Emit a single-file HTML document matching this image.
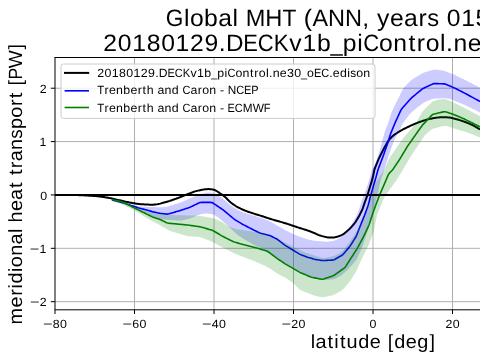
<!DOCTYPE html><html><head><meta charset="utf-8"><style>html,body{margin:0;padding:0;background:#fff;width:480px;height:360px;overflow:hidden}svg{display:block}</style></head><body><svg width="480" height="360" viewBox="0 0 480 360"><rect width="480" height="360" fill="#fff"/><defs><clipPath id="ax"><rect x="55" y="57.5" width="440" height="252.3"/></clipPath></defs><g stroke="#b0b0b0" stroke-width="1"><line x1="134.50" y1="57.5" x2="134.50" y2="309.8"/><line x1="214.00" y1="57.5" x2="214.00" y2="309.8"/><line x1="293.50" y1="57.5" x2="293.50" y2="309.8"/><line x1="373.00" y1="57.5" x2="373.00" y2="309.8"/><line x1="452.50" y1="57.5" x2="452.50" y2="309.8"/><line x1="55" y1="301.69" x2="480" y2="301.69"/><line x1="55" y1="248.32" x2="480" y2="248.32"/><line x1="55" y1="194.95" x2="480" y2="194.95"/><line x1="55" y1="141.58" x2="480" y2="141.58"/><line x1="55" y1="88.21" x2="480" y2="88.21"/></g><g clip-path="url(#ax)"><polyline points="55.00,194.95 56.08,194.95 57.05,194.96 58.02,194.96 59.01,194.96 60.01,194.96 61.01,194.97 62.01,194.97 63.01,194.97 64.02,194.97 65.02,194.98 66.02,194.98 67.02,194.98 68.02,194.98 69.02,194.99 70.03,194.99 71.03,194.99 72.03,194.99 73.03,195.00 74.03,195.01 75.03,195.02 76.04,195.05 77.04,195.08 78.04,195.12 79.04,195.16 80.04,195.20 81.04,195.24 82.04,195.28 83.04,195.32 84.04,195.37 85.04,195.41 86.04,195.47 87.04,195.52 88.04,195.58 89.04,195.64 90.04,195.70 91.04,195.76 92.04,195.82 93.04,195.89 94.04,195.95 95.04,196.03 96.04,196.11 97.04,196.21 98.03,196.31 99.03,196.42 100.02,196.53 101.02,196.66 102.01,196.80 103.00,196.94 103.99,197.09 104.98,197.23 105.97,197.39 106.96,197.55 107.94,197.73 108.93,197.93 109.91,198.13 110.88,198.35 111.86,198.56 112.84,198.78 113.82,198.99 114.80,199.21 115.77,199.43 116.75,199.66 117.73,199.89 118.70,200.11 119.68,200.34 120.65,200.57 121.63,200.79 122.61,201.01 123.58,201.23 124.56,201.44 125.54,201.65 126.52,201.86 127.50,202.07 128.48,202.27 129.46,202.47 130.45,202.66 131.43,202.84 132.42,203.02 133.41,203.19 134.39,203.36 135.38,203.53 136.37,203.68 137.36,203.82 138.35,203.94 139.35,204.04 140.35,204.13 141.35,204.21 142.34,204.29 143.34,204.36 144.34,204.43 145.34,204.49 146.34,204.54 147.34,204.58 148.34,204.61 149.35,204.64 150.35,204.67 151.35,204.68 152.35,204.68 153.35,204.64 154.34,204.57 155.34,204.48 156.34,204.38 157.33,204.24 158.31,204.07 159.29,203.86 160.26,203.62 161.22,203.35 162.18,203.07 163.14,202.78 164.10,202.49 165.06,202.21 166.03,201.94 166.99,201.68 167.96,201.42 168.92,201.15 169.88,200.86 170.83,200.54 171.77,200.20 172.71,199.86 173.65,199.52 174.60,199.20 175.55,198.88 176.50,198.55 177.44,198.22 178.38,197.88 179.32,197.53 180.25,197.15 181.17,196.76 182.09,196.37 183.02,195.98 183.94,195.59 184.86,195.20 185.79,194.83 186.72,194.47 187.66,194.12 188.60,193.78 189.55,193.44 190.48,193.09 191.42,192.73 192.35,192.36 193.29,192.00 194.23,191.66 195.18,191.36 196.14,191.09 197.11,190.85 198.08,190.63 199.06,190.41 200.04,190.20 201.02,190.00 202.00,189.80 202.99,189.61 203.97,189.44 204.96,189.31 205.96,189.20 206.95,189.14 207.95,189.10 208.95,189.10 209.95,189.14 210.94,189.23 211.92,189.37 212.90,189.56 213.86,189.79 214.79,190.10 215.69,190.51 216.55,191.00 217.38,191.53 218.22,192.09 219.04,192.65 219.87,193.22 220.70,193.78 221.52,194.35 222.35,194.92 223.16,195.50 223.97,196.09 224.75,196.71 225.50,197.37 226.22,198.06 226.92,198.77 227.61,199.49 228.31,200.21 229.01,200.92 229.74,201.61 230.49,202.26 231.27,202.88 232.07,203.48 232.89,204.07 233.70,204.65 234.53,205.21 235.37,205.75 236.23,206.27 237.10,206.77 237.97,207.26 238.85,207.74 239.74,208.20 240.63,208.64 241.54,209.06 242.45,209.47 243.37,209.87 244.29,210.26 245.22,210.64 246.16,211.00 247.10,211.35 248.04,211.69 248.98,212.02 249.93,212.35 250.88,212.67 251.83,212.98 252.78,213.29 253.74,213.59 254.69,213.90 255.65,214.19 256.60,214.49 257.56,214.79 258.52,215.08 259.48,215.37 260.43,215.67 261.39,215.97 262.35,216.27 263.30,216.57 264.25,216.89 265.20,217.20 266.15,217.52 267.10,217.83 268.05,218.15 269.01,218.46 269.96,218.76 270.92,219.06 271.88,219.35 272.84,219.63 273.80,219.91 274.76,220.20 275.72,220.48 276.68,220.76 277.65,221.03 278.61,221.31 279.57,221.58 280.54,221.85 281.50,222.12 282.47,222.39 283.43,222.67 284.39,222.95 285.35,223.24 286.30,223.54 287.26,223.85 288.21,224.17 289.16,224.49 290.11,224.80 291.06,225.12 292.01,225.44 292.96,225.75 293.91,226.07 294.86,226.39 295.81,226.70 296.76,227.02 297.71,227.34 298.66,227.65 299.61,227.96 300.57,228.26 301.52,228.56 302.48,228.86 303.44,229.15 304.40,229.45 305.35,229.75 306.31,230.05 307.26,230.36 308.21,230.68 309.15,231.02 310.09,231.36 311.03,231.72 311.96,232.08 312.89,232.46 313.81,232.85 314.73,233.25 315.64,233.65 316.56,234.06 317.47,234.47 318.39,234.86 319.32,235.23 320.26,235.57 321.21,235.87 322.18,236.14 323.14,236.39 324.11,236.64 325.09,236.88 326.06,237.10 327.04,237.28 328.03,237.40 329.02,237.46 330.02,237.49 331.02,237.50 332.02,237.49 333.02,237.47 334.01,237.42 334.99,237.29 335.96,237.10 336.92,236.83 337.88,236.54 338.83,236.22 339.77,235.90 340.71,235.56 341.62,235.17 342.49,234.72 343.32,234.18 344.11,233.59 344.88,232.95 345.65,232.31 346.41,231.66 347.17,231.01 347.93,230.35 348.68,229.70 349.42,229.02 350.14,228.32 350.82,227.60 351.49,226.85 352.15,226.10 352.81,225.34 353.46,224.58 354.09,223.81 354.71,223.02 355.30,222.22 355.86,221.39 356.40,220.55 356.94,219.70 357.46,218.85 357.98,217.99 358.49,217.13 358.98,216.26 359.44,215.37 359.89,214.48 360.34,213.58 360.78,212.68 361.22,211.78 361.66,210.88 362.07,209.97 362.47,209.05 362.83,208.12 363.16,207.18 363.49,206.23 363.81,205.28 364.12,204.33 364.44,203.38 364.77,202.43 365.10,201.49 365.44,200.55 365.78,199.61 366.13,198.67 366.48,197.73 366.83,196.79 367.17,195.85 367.50,194.90 367.81,193.95 368.12,193.00 368.42,192.04 368.71,191.08 369.01,190.13 369.31,189.17 369.60,188.21 369.90,187.26 370.19,186.30 370.48,185.34 370.77,184.38 371.05,183.42 371.33,182.46 371.60,181.49 371.88,180.53 372.15,179.57 372.42,178.60 372.69,177.64 372.94,176.67 373.17,175.69 373.38,174.71 373.57,173.73 373.77,172.75 373.96,171.77 374.17,170.79 374.41,169.82 374.70,168.87 375.03,167.93 375.39,166.99 375.76,166.06 376.14,165.14 376.52,164.21 376.90,163.28 377.28,162.35 377.66,161.43 378.04,160.50 378.43,159.58 378.84,158.67 379.26,157.76 379.70,156.86 380.15,155.96 380.59,155.06 381.04,154.17 381.49,153.27 381.94,152.38 382.39,151.48 382.84,150.59 383.29,149.70 383.76,148.81 384.24,147.93 384.72,147.05 385.22,146.18 385.71,145.31 386.21,144.44 386.71,143.57 387.21,142.71 387.72,141.85 388.25,141.00 388.82,140.19 389.44,139.42 390.11,138.68 390.80,137.96 391.51,137.25 392.22,136.55 392.95,135.87 393.71,135.22 394.50,134.62 395.33,134.05 396.17,133.51 397.02,132.98 397.87,132.46 398.72,131.93 399.58,131.41 400.43,130.88 401.29,130.37 402.15,129.87 403.03,129.39 403.92,128.93 404.82,128.49 405.72,128.05 406.63,127.62 407.53,127.19 408.43,126.75 409.33,126.32 410.24,125.89 411.14,125.46 412.06,125.04 412.97,124.64 413.89,124.25 414.82,123.87 415.75,123.50 416.68,123.13 417.61,122.76 418.54,122.39 419.48,122.04 420.42,121.70 421.37,121.37 422.32,121.06 423.27,120.75 424.23,120.45 425.18,120.15 426.14,119.85 427.10,119.57 428.07,119.32 429.04,119.09 430.02,118.87 431.00,118.65 431.98,118.45 432.96,118.24 433.94,118.05 434.93,117.89 435.92,117.75 436.91,117.63 437.91,117.53 438.90,117.44 439.90,117.35 440.90,117.27 441.90,117.21 442.90,117.19 443.90,117.20 444.90,117.23 445.90,117.28 446.90,117.34 447.89,117.40 448.89,117.49 449.88,117.61 450.86,117.78 451.84,117.98 452.81,118.22 453.78,118.46 454.76,118.71 455.72,118.96 456.69,119.22 457.65,119.49 458.61,119.79 459.56,120.09 460.52,120.41 461.47,120.72 462.42,121.04 463.36,121.36 464.31,121.70 465.25,122.04 466.18,122.40 467.11,122.78 468.04,123.16 468.96,123.54 469.89,123.92 470.81,124.32 471.72,124.73 472.62,125.16 473.51,125.63 474.38,126.11 475.25,126.61 476.11,127.12 476.97,127.62 477.81,128.12 478.64,128.60 479.51,129.11 480.00,129.40" fill="none" stroke="#000" stroke-width="2" stroke-linejoin="round" stroke-linecap="butt"/><polygon points="111.90,200.00 112.95,200.25 113.89,200.48 114.83,200.71 115.80,200.94 116.77,201.18 117.74,201.41 118.71,201.65 119.69,201.89 120.66,202.12 121.64,202.36 122.61,202.59 123.58,202.83 124.56,203.07 125.53,203.30 126.50,203.54 127.48,203.77 128.45,204.01 129.42,204.24 130.40,204.48 131.37,204.72 132.34,204.95 133.32,205.19 134.29,205.42 135.27,205.65 136.24,205.87 137.22,206.06 138.21,206.21 139.20,206.32 140.20,206.41 141.20,206.50 142.20,206.57 143.20,206.65 144.19,206.72 145.19,206.78 146.19,206.82 147.20,206.86 148.20,206.88 149.20,206.91 150.20,206.94 151.20,206.97 152.20,207.00 153.20,207.03 154.20,207.07 155.21,207.11 156.21,207.15 157.21,207.19 158.21,207.22 159.21,207.24 160.21,207.25 161.21,207.23 162.21,207.19 163.21,207.14 164.21,207.08 165.20,207.00 166.19,206.86 167.16,206.65 168.12,206.40 169.08,206.11 170.04,205.81 170.99,205.51 171.95,205.21 172.91,204.91 173.86,204.62 174.82,204.32 175.77,204.02 176.73,203.72 177.68,203.42 178.64,203.12 179.59,202.81 180.54,202.49 181.48,202.14 182.40,201.76 183.32,201.37 184.24,200.96 185.15,200.55 186.07,200.14 186.98,199.73 187.90,199.32 188.81,198.91 189.72,198.50 190.64,198.09 191.55,197.69 192.47,197.28 193.39,196.88 194.31,196.50 195.24,196.12 196.17,195.75 197.10,195.39 198.04,195.03 198.98,194.68 199.92,194.36 200.88,194.07 201.85,193.80 202.82,193.56 203.79,193.32 204.76,193.08 205.73,192.86 206.71,192.69 207.69,192.59 208.68,192.58 209.68,192.63 210.67,192.71 211.66,192.82 212.65,192.97 213.61,193.19 214.54,193.50 215.46,193.88 216.36,194.31 217.25,194.77 218.12,195.26 218.96,195.79 219.78,196.36 220.57,196.97 221.36,197.59 222.14,198.21 222.92,198.84 223.70,199.46 224.48,200.09 225.26,200.73 226.03,201.36 226.80,202.00 227.57,202.64 228.34,203.29 229.11,203.93 229.88,204.57 230.65,205.20 231.43,205.83 232.23,206.43 233.05,207.00 233.90,207.53 234.76,208.04 235.63,208.54 236.50,209.03 237.37,209.53 238.24,210.03 239.11,210.52 239.99,211.00 240.88,211.44 241.79,211.84 242.73,212.19 243.68,212.51 244.63,212.81 245.58,213.11 246.54,213.41 247.50,213.71 248.45,214.01 249.41,214.31 250.37,214.60 251.32,214.90 252.28,215.18 253.24,215.47 254.20,215.77 255.15,216.07 256.11,216.38 257.06,216.69 258.01,217.00 258.96,217.32 259.91,217.64 260.86,217.96 261.81,218.28 262.75,218.61 263.70,218.94 264.64,219.29 265.58,219.63 266.52,219.97 267.46,220.32 268.39,220.68 269.32,221.06 270.23,221.47 271.12,221.93 271.99,222.41 272.86,222.91 273.73,223.41 274.59,223.91 275.46,224.42 276.33,224.92 277.19,225.42 278.06,225.93 278.92,226.43 279.79,226.94 280.65,227.45 281.51,227.95 282.38,228.46 283.24,228.96 284.11,229.46 284.99,229.95 285.87,230.42 286.76,230.88 287.66,231.33 288.55,231.78 289.45,232.22 290.34,232.67 291.24,233.11 292.15,233.54 293.06,233.96 293.97,234.36 294.90,234.75 295.82,235.14 296.74,235.53 297.67,235.92 298.59,236.30 299.52,236.67 300.46,237.02 301.40,237.36 302.35,237.68 303.30,238.00 304.25,238.32 305.20,238.63 306.15,238.93 307.11,239.22 308.08,239.47 309.06,239.70 310.03,239.90 311.02,240.10 312.00,240.30 312.98,240.49 313.97,240.67 314.95,240.82 315.95,240.94 316.94,241.03 317.94,241.11 318.94,241.18 319.94,241.26 320.94,241.34 321.94,241.42 322.93,241.50 323.93,241.59 324.93,241.67 325.93,241.73 326.92,241.76 327.91,241.72 328.90,241.62 329.89,241.48 330.88,241.31 331.87,241.14 332.85,240.96 333.82,240.74 334.77,240.47 335.70,240.12 336.60,239.70 337.48,239.24 338.36,238.76 339.24,238.28 340.12,237.80 340.98,237.29 341.81,236.76 342.60,236.16 343.33,235.49 344.03,234.78 344.70,234.05 345.37,233.30 346.03,232.55 346.67,231.78 347.28,230.99 347.86,230.18 348.43,229.35 348.99,228.52 349.54,227.68 350.09,226.85 350.63,226.01 351.16,225.16 351.68,224.30 352.18,223.43 352.68,222.56 353.18,221.69 353.67,220.82 354.16,219.95 354.65,219.07 355.12,218.19 355.57,217.30 356.02,216.40 356.46,215.50 356.89,214.60 357.32,213.69 357.74,212.79 358.14,211.87 358.49,210.94 358.82,209.99 359.13,209.04 359.43,208.08 359.73,207.13 360.03,206.17 360.33,205.22 360.63,204.26 360.93,203.30 361.23,202.35 361.53,201.39 361.83,200.44 362.15,199.49 362.48,198.54 362.83,197.61 363.21,196.68 363.60,195.76 363.99,194.84 364.38,193.91 364.76,192.99 365.11,192.05 365.45,191.11 365.78,190.16 366.10,189.21 366.41,188.26 366.73,187.31 367.05,186.36 367.36,185.41 367.68,184.46 367.99,183.51 368.31,182.56 368.61,181.60 368.90,180.65 369.18,179.69 369.46,178.72 369.73,177.76 370.00,176.79 370.27,175.83 370.54,174.86 370.81,173.90 371.08,172.94 371.37,171.98 371.68,171.03 372.05,170.12 372.50,169.23 373.00,168.37 373.52,167.52 374.02,166.66 374.46,165.77 374.85,164.86 375.20,163.92 375.54,162.98 375.87,162.03 376.20,161.09 376.53,160.14 376.86,159.19 377.18,158.25 377.51,157.30 377.84,156.36 378.17,155.41 378.48,154.46 378.78,153.50 379.07,152.54 379.34,151.58 379.60,150.61 379.87,149.65 380.13,148.68 380.40,147.71 380.66,146.75 380.92,145.78 381.19,144.82 381.45,143.85 381.71,142.88 381.98,141.92 382.24,140.95 382.51,139.98 382.77,139.02 383.04,138.05 383.30,137.09 383.57,136.12 383.84,135.16 384.10,134.19 384.37,133.22 384.63,132.26 384.90,131.29 385.19,130.33 385.49,129.39 385.85,128.45 386.24,127.54 386.67,126.63 387.08,125.72 387.47,124.81 387.82,123.87 388.15,122.92 388.45,121.97 388.76,121.02 389.06,120.06 389.36,119.11 389.66,118.15 389.96,117.20 390.27,116.24 390.57,115.29 390.87,114.33 391.18,113.38 391.52,112.44 391.88,111.51 392.28,110.59 392.71,109.69 393.16,108.79 393.60,107.90 394.05,107.00 394.50,106.10 394.95,105.21 395.39,104.31 395.84,103.42 396.29,102.52 396.73,101.62 397.18,100.72 397.62,99.83 398.07,98.93 398.51,98.03 398.95,97.13 399.39,96.23 399.83,95.33 400.26,94.42 400.68,93.52 401.10,92.61 401.52,91.70 401.95,90.80 402.40,89.90 402.89,89.04 403.44,88.23 404.07,87.46 404.74,86.72 405.43,86.00 406.13,85.28 406.82,84.56 407.52,83.84 408.22,83.12 408.92,82.40 409.62,81.69 410.34,81.00 411.08,80.33 411.86,79.72 412.68,79.15 413.52,78.61 414.37,78.09 415.23,77.56 416.08,77.04 416.93,76.51 417.79,75.99 418.64,75.47 419.50,74.94 420.35,74.42 421.21,73.92 422.09,73.45 423.00,73.03 423.92,72.66 424.86,72.33 425.81,72.01 426.76,71.70 427.72,71.38 428.67,71.07 429.62,70.76 430.57,70.45 431.52,70.15 432.48,69.89 433.44,69.70 434.42,69.62 435.40,69.64 436.39,69.73 437.39,69.84 438.38,69.96 439.38,70.08 440.37,70.20 441.36,70.32 442.35,70.47 443.33,70.66 444.29,70.90 445.24,71.21 446.18,71.56 447.11,71.92 448.04,72.28 448.98,72.64 449.91,73.01 450.84,73.37 451.78,73.74 452.71,74.11 453.64,74.48 454.56,74.87 455.47,75.27 456.38,75.70 457.28,76.14 458.18,76.59 459.07,77.04 459.97,77.48 460.86,77.93 461.76,78.38 462.65,78.83 463.55,79.28 464.45,79.72 465.34,80.17 466.24,80.62 467.13,81.07 468.03,81.52 468.93,81.96 469.82,82.41 470.72,82.86 471.61,83.31 472.51,83.76 473.40,84.21 474.30,84.66 475.18,85.13 476.06,85.60 476.94,86.09 477.79,86.57 478.64,87.04 479.51,87.52 480.00,87.80 480.00,112.50 480.00,112.50 479.04,112.02 478.17,111.59 477.30,111.15 476.42,110.71 475.52,110.26 474.63,109.81 473.73,109.36 472.83,108.92 471.94,108.47 471.04,108.02 470.15,107.57 469.25,107.13 468.35,106.68 467.46,106.23 466.56,105.79 465.66,105.36 464.75,104.94 463.83,104.54 462.91,104.15 461.98,103.77 461.05,103.39 460.13,103.02 459.20,102.64 458.27,102.26 457.34,101.89 456.41,101.51 455.49,101.13 454.56,100.75 453.63,100.38 452.70,100.00 451.77,99.64 450.83,99.31 449.88,99.03 448.91,98.81 447.92,98.65 446.93,98.51 445.94,98.39 444.95,98.29 443.95,98.22 442.95,98.20 441.96,98.22 440.96,98.26 439.96,98.32 438.96,98.38 437.96,98.43 436.96,98.49 435.96,98.55 434.96,98.62 433.97,98.71 432.99,98.86 432.03,99.09 431.09,99.40 430.16,99.76 429.24,100.15 428.32,100.54 427.40,100.94 426.48,101.33 425.57,101.74 424.67,102.17 423.80,102.65 422.96,103.19 422.16,103.78 421.36,104.39 420.58,105.00 419.79,105.62 419.00,106.24 418.22,106.86 417.43,107.48 416.64,108.11 415.86,108.73 415.09,109.37 414.32,110.01 413.56,110.66 412.80,111.31 412.05,111.97 411.30,112.64 410.58,113.33 409.90,114.05 409.25,114.81 408.63,115.59 408.02,116.39 407.42,117.19 406.82,117.99 406.22,118.79 405.62,119.59 405.02,120.39 404.42,121.20 403.82,122.00 403.25,122.82 402.71,123.66 402.21,124.52 401.76,125.41 401.33,126.31 400.91,127.22 400.50,128.13 400.08,129.04 399.66,129.95 399.24,130.86 398.81,131.76 398.36,132.66 397.88,133.54 397.40,134.41 396.90,135.28 396.41,136.15 395.91,137.02 395.41,137.89 394.93,138.77 394.48,139.66 394.07,140.57 393.69,141.49 393.35,142.43 393.01,143.37 392.67,144.32 392.34,145.26 392.01,146.21 391.67,147.15 391.34,148.10 391.01,149.04 390.67,149.98 390.34,150.93 390.01,151.87 389.67,152.82 389.34,153.76 389.01,154.71 388.68,155.65 388.36,156.60 388.05,157.55 387.75,158.51 387.45,159.46 387.15,160.42 386.86,161.38 386.56,162.34 386.27,163.29 385.97,164.25 385.68,165.21 385.38,166.16 385.09,167.12 384.79,168.08 384.49,169.03 384.19,169.99 383.87,170.94 383.56,171.89 383.24,172.84 382.91,173.78 382.59,174.73 382.27,175.68 381.95,176.63 381.63,177.58 381.31,178.53 381.02,179.48 380.75,180.45 380.50,181.42 380.28,182.39 380.06,183.37 379.84,184.35 379.63,185.33 379.41,186.30 379.20,187.28 378.98,188.26 378.77,189.24 378.55,190.22 378.34,191.19 378.12,192.17 377.90,193.15 377.68,194.13 377.44,195.10 377.19,196.07 376.93,197.03 376.66,198.00 376.39,198.96 376.12,199.93 375.85,200.89 375.58,201.86 375.31,202.82 375.04,203.79 374.77,204.75 374.50,205.71 374.23,206.68 373.96,207.64 373.69,208.61 373.43,209.57 373.17,210.54 372.92,211.51 372.67,212.48 372.43,213.45 372.18,214.42 371.94,215.39 371.69,216.37 371.45,217.34 371.20,218.31 370.95,219.28 370.71,220.25 370.46,221.22 370.22,222.19 369.97,223.16 369.73,224.13 369.48,225.10 369.23,226.07 368.97,227.04 368.70,228.00 368.40,228.96 368.09,229.91 367.77,230.86 367.45,231.81 367.12,232.75 366.80,233.70 366.47,234.65 366.15,235.60 365.82,236.54 365.50,237.49 365.17,238.44 364.85,239.39 364.53,240.33 364.20,241.28 363.88,242.23 363.55,243.18 363.22,244.12 362.89,245.07 362.54,246.00 362.17,246.94 361.79,247.86 361.39,248.78 361.00,249.70 360.59,250.62 360.19,251.53 359.79,252.45 359.39,253.37 358.99,254.29 358.59,255.21 358.19,256.12 357.79,257.04 357.38,257.95 356.94,258.85 356.46,259.71 355.91,260.53 355.30,261.32 354.65,262.08 353.99,262.83 353.33,263.58 352.66,264.33 352.00,265.08 351.34,265.83 350.67,266.58 350.00,267.32 349.32,268.06 348.63,268.78 347.92,269.48 347.19,270.17 346.45,270.85 345.71,271.52 344.97,272.20 344.23,272.87 343.49,273.55 342.75,274.21 341.98,274.85 341.19,275.45 340.35,275.98 339.49,276.47 338.60,276.94 337.71,277.39 336.82,277.84 335.92,278.29 335.01,278.70 334.09,279.04 333.14,279.29 332.17,279.44 331.18,279.53 330.18,279.59 329.18,279.64 328.18,279.70 327.18,279.75 326.18,279.80 325.18,279.85 324.18,279.89 323.19,279.88 322.20,279.82 321.21,279.70 320.23,279.52 319.24,279.33 318.26,279.13 317.28,278.93 316.30,278.73 315.32,278.53 314.34,278.33 313.36,278.12 312.39,277.89 311.43,277.62 310.49,277.30 309.56,276.93 308.64,276.54 307.72,276.13 306.81,275.73 305.89,275.32 304.98,274.91 304.06,274.51 303.15,274.10 302.23,273.69 301.32,273.27 300.42,272.84 299.53,272.38 298.66,271.90 297.79,271.40 296.92,270.89 296.06,270.39 295.20,269.88 294.33,269.38 293.47,268.87 292.60,268.37 291.74,267.86 290.87,267.36 290.00,266.87 289.13,266.37 288.26,265.87 287.39,265.37 286.53,264.87 285.67,264.36 284.81,263.84 283.97,263.30 283.13,262.75 282.29,262.20 281.46,261.64 280.63,261.09 279.80,260.53 278.96,259.97 278.14,259.41 277.32,258.83 276.51,258.24 275.70,257.65 274.90,257.05 274.10,256.45 273.30,255.85 272.50,255.25 271.69,254.65 270.89,254.04 270.09,253.44 269.29,252.85 268.47,252.26 267.65,251.70 266.80,251.18 265.93,250.68 265.05,250.20 264.17,249.73 263.29,249.25 262.40,248.79 261.52,248.33 260.62,247.89 259.70,247.48 258.78,247.12 257.84,246.77 256.91,246.40 256.00,246.00 255.11,245.56 254.23,245.08 253.35,244.59 252.48,244.10 251.61,243.60 250.74,243.10 249.88,242.61 249.01,242.11 248.14,241.60 247.28,241.09 246.43,240.57 245.57,240.04 244.72,239.51 243.88,238.98 243.03,238.45 242.18,237.92 241.33,237.39 240.48,236.86 239.63,236.33 238.79,235.78 237.98,235.21 237.19,234.60 236.43,233.95 235.69,233.28 234.96,232.60 234.23,231.91 233.50,231.22 232.77,230.53 232.04,229.85 231.32,229.16 230.59,228.47 229.86,227.78 229.13,227.10 228.40,226.41 227.66,225.73 226.93,225.05 226.19,224.37 225.46,223.69 224.72,223.02 223.98,222.34 223.23,221.68 222.48,221.02 221.71,220.37 220.95,219.73 220.18,219.08 219.41,218.45 218.62,217.83 217.82,217.23 217.00,216.66 216.17,216.10 215.33,215.56 214.48,215.05 213.60,214.62 212.68,214.30 211.72,214.08 210.74,213.93 209.75,213.82 208.76,213.71 207.76,213.61 206.77,213.52 205.77,213.48 204.79,213.51 203.80,213.63 202.82,213.81 201.85,214.02 200.87,214.24 199.90,214.46 198.93,214.71 197.97,214.99 197.04,215.33 196.12,215.72 195.21,216.14 194.31,216.58 193.42,217.02 192.51,217.44 191.59,217.83 190.66,218.17 189.70,218.46 188.74,218.72 187.77,218.97 186.80,219.21 185.82,219.46 184.85,219.70 183.88,219.94 182.91,220.16 181.93,220.34 180.95,220.45 179.95,220.49 178.96,220.48 177.96,220.44 176.96,220.39 175.96,220.35 174.96,220.30 173.96,220.25 172.96,220.20 171.96,220.15 170.96,220.10 169.95,220.05 168.96,219.99 167.96,219.93 166.96,219.85 165.96,219.78 164.96,219.70 163.96,219.62 162.96,219.53 161.97,219.44 160.98,219.33 159.99,219.17 159.02,218.95 158.06,218.69 157.10,218.41 156.14,218.12 155.18,217.82 154.23,217.52 153.28,217.20 152.35,216.85 151.42,216.47 150.51,216.06 149.60,215.64 148.69,215.22 147.78,214.80 146.88,214.37 145.98,213.92 145.10,213.45 144.24,212.95 143.39,212.42 142.56,211.87 141.72,211.31 140.89,210.76 140.05,210.21 139.22,209.66 138.36,209.14 137.49,208.67 136.58,208.26 135.65,207.91 134.71,207.58 133.76,207.26 132.81,206.94 131.86,206.63 130.91,206.31 129.96,206.00 129.01,205.68 128.06,205.37 127.11,205.05 126.16,204.73 125.21,204.42 124.26,204.10 123.31,203.79 122.36,203.47 121.40,203.16 120.45,202.84 119.50,202.52 118.55,202.21 117.60,201.89 116.65,201.58 115.70,201.26 114.76,200.95 113.84,200.64 112.92,200.34 111.90,200.00" fill="#0000ff" fill-opacity="0.2" stroke="none"/><polyline points="111.90,200.00 112.89,200.24 113.85,200.48 114.82,200.72 115.79,200.95 116.76,201.19 117.73,201.43 118.71,201.67 119.68,201.91 120.65,202.15 121.62,202.39 122.59,202.65 123.54,202.95 124.49,203.26 125.44,203.58 126.39,203.90 127.34,204.21 128.29,204.53 129.24,204.85 130.19,205.16 131.14,205.48 132.09,205.80 133.04,206.11 133.99,206.43 134.94,206.75 135.89,207.06 136.85,207.37 137.80,207.66 138.77,207.92 139.74,208.17 140.71,208.41 141.68,208.66 142.65,208.91 143.62,209.15 144.59,209.40 145.56,209.67 146.52,209.96 147.48,210.24 148.44,210.53 149.39,210.82 150.35,211.11 151.31,211.39 152.28,211.66 153.25,211.90 154.23,212.11 155.21,212.31 156.19,212.51 157.17,212.71 158.15,212.92 159.13,213.12 160.12,213.29 161.11,213.43 162.10,213.55 163.09,213.67 164.09,213.79 165.08,213.91 166.08,214.02 167.07,214.09 168.04,214.00 169.01,213.77 169.97,213.50 170.94,213.22 171.90,212.95 172.86,212.67 173.83,212.40 174.79,212.13 175.75,211.85 176.72,211.58 177.68,211.30 178.64,211.02 179.59,210.72 180.55,210.41 181.50,210.10 182.45,209.78 183.40,209.47 184.35,209.16 185.30,208.85 186.25,208.53 187.20,208.22 188.15,207.91 189.10,207.59 190.04,207.24 190.95,206.83 191.85,206.39 192.75,205.95 193.65,205.51 194.55,205.07 195.45,204.63 196.35,204.19 197.25,203.75 198.15,203.31 199.05,202.88 199.97,202.55 200.94,202.42 201.94,202.40 202.94,202.40 203.94,202.40 204.94,202.40 205.95,202.40 206.95,202.40 207.95,202.40 208.95,202.40 209.95,202.40 210.95,202.42 211.90,202.59 212.77,203.00 213.62,203.53 214.45,204.09 215.29,204.64 216.12,205.19 216.96,205.74 217.79,206.30 218.62,206.85 219.45,207.41 220.28,207.97 221.11,208.53 221.95,209.09 222.77,209.66 223.57,210.25 224.35,210.89 225.11,211.53 225.88,212.18 226.64,212.82 227.41,213.47 228.17,214.11 228.94,214.76 229.70,215.41 230.47,216.05 231.23,216.70 232.00,217.34 232.77,217.99 233.54,218.63 234.33,219.23 235.16,219.78 236.02,220.31 236.87,220.83 237.73,221.35 238.58,221.87 239.44,222.39 240.29,222.91 241.15,223.43 242.01,223.94 242.88,224.43 243.77,224.90 244.66,225.36 245.55,225.82 246.44,226.28 247.33,226.74 248.22,227.19 249.11,227.65 250.00,228.11 250.89,228.57 251.78,229.03 252.67,229.48 253.57,229.93 254.46,230.37 255.36,230.81 256.26,231.26 257.16,231.70 258.06,232.14 258.96,232.58 259.87,232.98 260.82,233.29 261.78,233.55 262.75,233.79 263.73,234.03 264.70,234.27 265.67,234.52 266.64,234.76 267.61,235.00 268.58,235.25 269.54,235.52 270.47,235.87 271.38,236.30 272.27,236.75 273.16,237.20 274.06,237.66 274.95,238.11 275.84,238.56 276.73,239.02 277.59,239.53 278.40,240.11 279.19,240.73 279.97,241.35 280.76,241.97 281.55,242.58 282.34,243.20 283.12,243.82 283.91,244.44 284.71,245.04 285.53,245.61 286.39,246.13 287.24,246.65 288.10,247.16 288.96,247.68 289.82,248.19 290.68,248.71 291.54,249.22 292.39,249.74 293.25,250.26 294.10,250.78 294.96,251.31 295.81,251.83 296.66,252.35 297.52,252.88 298.37,253.40 299.23,253.92 300.11,254.38 301.03,254.78 301.96,255.13 302.90,255.48 303.84,255.83 304.78,256.18 305.71,256.53 306.65,256.88 307.60,257.21 308.55,257.51 309.51,257.79 310.48,258.07 311.44,258.35 312.40,258.64 313.36,258.92 314.32,259.19 315.29,259.42 316.28,259.60 317.26,259.76 318.25,259.92 319.24,260.08 320.23,260.24 321.22,260.39 322.21,260.51 323.21,260.54 324.20,260.51 325.20,260.46 326.20,260.40 327.20,260.35 328.20,260.30 329.20,260.24 330.20,260.19 331.20,260.14 332.20,260.08 333.19,259.98 334.13,259.71 335.01,259.27 335.88,258.78 336.75,258.28 337.62,257.79 338.49,257.29 339.36,256.79 340.23,256.30 341.10,255.80 341.95,255.28 342.72,254.66 343.40,253.94 344.06,253.18 344.71,252.42 345.36,251.66 346.01,250.90 346.66,250.14 347.31,249.38 347.97,248.62 348.62,247.86 349.27,247.10 349.89,246.32 350.46,245.50 351.00,244.65 351.53,243.81 352.06,242.96 352.59,242.11 353.12,241.26 353.65,240.41 354.18,239.56 354.71,238.71 355.24,237.86 355.76,237.01 356.24,236.13 356.65,235.22 357.02,234.29 357.38,233.36 357.74,232.42 358.11,231.49 358.47,230.56 358.84,229.63 359.20,228.69 359.57,227.76 359.93,226.83 360.29,225.90 360.66,224.96 361.03,224.03 361.40,223.10 361.78,222.18 362.15,221.25 362.53,220.32 362.90,219.39 363.28,218.46 363.65,217.53 364.03,216.61 364.40,215.68 364.77,214.75 365.13,213.81 365.48,212.87 365.81,211.93 366.15,210.99 366.49,210.04 366.83,209.10 367.17,208.16 367.50,207.22 367.84,206.27 368.16,205.33 368.45,204.37 368.70,203.40 368.94,202.43 369.19,201.46 369.43,200.49 369.67,199.51 369.91,198.54 370.16,197.57 370.40,196.60 370.65,195.63 370.91,194.66 371.18,193.70 371.47,192.74 371.75,191.78 372.03,190.82 372.32,189.86 372.60,188.90 372.88,187.94 373.17,186.98 373.45,186.02 373.73,185.06 374.01,184.09 374.28,183.13 374.56,182.17 374.83,181.21 375.11,180.24 375.38,179.28 375.66,178.32 375.93,177.35 376.21,176.39 376.47,175.43 376.73,174.46 376.99,173.49 377.26,172.53 377.52,171.56 377.78,170.59 378.06,169.63 378.38,168.69 378.73,167.75 379.08,166.81 379.44,165.88 379.80,164.94 380.15,164.00 380.51,163.07 380.86,162.13 381.22,161.20 381.58,160.26 381.93,159.32 382.29,158.39 382.64,157.45 382.99,156.51 383.34,155.57 383.67,154.63 384.00,153.69 384.34,152.74 384.67,151.80 385.00,150.85 385.33,149.91 385.67,148.96 386.00,148.02 386.33,147.07 386.66,146.13 386.99,145.18 387.32,144.24 387.64,143.29 387.94,142.33 388.24,141.38 388.53,140.42 388.83,139.46 389.12,138.51 389.42,137.55 389.72,136.60 390.01,135.64 390.31,134.68 390.63,133.74 390.99,132.80 391.37,131.87 391.75,130.95 392.13,130.02 392.51,129.09 392.89,128.17 393.26,127.24 393.64,126.31 394.02,125.39 394.40,124.46 394.79,123.54 395.18,122.62 395.60,121.70 396.01,120.79 396.43,119.88 396.85,118.97 397.27,118.06 397.69,117.16 398.10,116.25 398.52,115.34 398.94,114.43 399.36,113.52 399.78,112.61 400.19,111.70 400.61,110.79 401.06,109.90 401.60,109.06 402.23,108.29 402.89,107.54 403.56,106.79 404.22,106.04 404.88,105.29 405.55,104.54 406.21,103.79 406.87,103.04 407.54,102.29 408.20,101.54 408.87,100.79 409.53,100.04 410.19,99.30 410.87,98.56 411.58,97.86 412.33,97.20 413.10,96.56 413.87,95.92 414.64,95.28 415.41,94.64 416.18,94.00 416.95,93.36 417.72,92.72 418.49,92.08 419.26,91.44 420.03,90.80 420.80,90.16 421.58,89.53 422.38,88.93 423.23,88.43 424.13,87.99 425.04,87.57 425.94,87.14 426.85,86.72 427.76,86.30 428.67,85.87 429.57,85.45 430.48,85.03 431.39,84.60 432.30,84.18 433.21,83.80 434.16,83.59 435.15,83.56 436.15,83.59 437.15,83.62 438.15,83.66 439.15,83.69 440.15,83.73 441.15,83.76 442.15,83.80 443.15,83.84 444.15,83.89 445.12,84.05 446.06,84.37 446.98,84.75 447.90,85.15 448.82,85.54 449.74,85.94 450.66,86.33 451.58,86.73 452.50,87.13 453.42,87.52 454.34,87.92 455.25,88.34 456.14,88.79 457.04,89.24 457.93,89.69 458.82,90.15 459.71,90.60 460.61,91.06 461.50,91.51 462.39,91.97 463.28,92.42 464.17,92.88 465.06,93.34 465.94,93.81 466.82,94.29 467.70,94.77 468.58,95.25 469.46,95.73 470.34,96.21 471.22,96.69 472.10,97.17 472.98,97.65 473.86,98.13 474.74,98.61 475.61,99.09 476.49,99.57 477.37,100.05 478.24,100.53 479.10,101.01 480.00,101.50 480.00,101.50" fill="none" stroke="#0000ff" stroke-width="1.6" stroke-linejoin="round"/><polygon points="111.90,199.50 112.92,199.85 113.83,200.16 114.75,200.47 115.69,200.79 116.64,201.11 117.59,201.43 118.54,201.75 119.48,202.08 120.43,202.40 121.38,202.72 122.33,203.04 123.27,203.37 124.22,203.69 125.17,204.01 126.12,204.33 127.07,204.65 128.01,204.98 128.96,205.30 129.91,205.62 130.86,205.94 131.81,206.26 132.75,206.59 133.70,206.91 134.65,207.23 135.60,207.55 136.54,207.88 137.49,208.20 138.44,208.52 139.39,208.84 140.34,209.16 141.28,209.49 142.23,209.81 143.18,210.13 144.13,210.46 145.07,210.78 146.02,211.11 146.96,211.44 147.91,211.76 148.86,212.06 149.82,212.33 150.80,212.55 151.78,212.72 152.77,212.87 153.76,213.00 154.75,213.13 155.74,213.27 156.74,213.40 157.73,213.53 158.72,213.66 159.71,213.79 160.70,213.93 161.70,214.06 162.69,214.19 163.68,214.32 164.67,214.46 165.67,214.59 166.66,214.72 167.65,214.83 168.65,214.93 169.65,214.99 170.64,215.03 171.65,215.06 172.65,215.09 173.65,215.11 174.65,215.13 175.65,215.15 176.65,215.18 177.65,215.20 178.65,215.22 179.65,215.24 180.65,215.26 181.65,215.29 182.65,215.31 183.66,215.33 184.66,215.35 185.66,215.38 186.66,215.40 187.66,215.42 188.66,215.44 189.66,215.46 190.66,215.48 191.66,215.50 192.66,215.52 193.66,215.54 194.66,215.56 195.67,215.58 196.66,215.62 197.66,215.69 198.65,215.79 199.65,215.92 200.64,216.06 201.63,216.21 202.62,216.35 203.61,216.50 204.60,216.66 205.58,216.83 206.57,217.01 207.55,217.19 208.53,217.38 209.52,217.57 210.50,217.76 211.48,217.96 212.45,218.19 213.41,218.46 214.36,218.77 215.29,219.12 216.22,219.49 217.15,219.86 218.08,220.24 219.01,220.61 219.93,221.00 220.84,221.42 221.72,221.88 222.57,222.39 223.39,222.95 224.21,223.53 225.02,224.11 225.83,224.70 226.65,225.28 227.48,225.82 228.34,226.31 229.24,226.72 230.17,227.08 231.11,227.40 232.06,227.71 233.02,228.02 233.97,228.32 234.93,228.62 235.89,228.90 236.85,229.14 237.83,229.35 238.81,229.52 239.80,229.68 240.79,229.84 241.78,230.00 242.77,230.15 243.76,230.30 244.75,230.45 245.74,230.59 246.73,230.73 247.72,230.86 248.71,231.00 249.71,231.13 250.70,231.26 251.69,231.39 252.68,231.52 253.68,231.66 254.67,231.79 255.66,231.92 256.65,232.06 257.64,232.19 258.63,232.35 259.61,232.54 260.58,232.77 261.53,233.06 262.48,233.37 263.43,233.70 264.37,234.03 265.32,234.36 266.26,234.69 267.21,235.02 268.15,235.36 269.09,235.70 270.02,236.06 270.95,236.45 271.86,236.84 272.78,237.25 273.69,237.66 274.61,238.07 275.52,238.48 276.43,238.89 277.34,239.31 278.26,239.72 279.17,240.13 280.08,240.55 280.98,240.98 281.89,241.41 282.79,241.84 283.69,242.27 284.59,242.71 285.50,243.14 286.40,243.57 287.30,244.00 288.20,244.44 289.11,244.87 290.01,245.30 290.91,245.74 291.81,246.17 292.72,246.60 293.62,247.04 294.52,247.47 295.42,247.90 296.33,248.34 297.23,248.77 298.13,249.20 299.03,249.64 299.94,250.07 300.84,250.50 301.74,250.94 302.65,251.37 303.55,251.79 304.47,252.19 305.39,252.56 306.33,252.90 307.28,253.22 308.24,253.52 309.19,253.83 310.14,254.13 311.10,254.43 312.05,254.74 313.01,255.04 313.96,255.34 314.92,255.64 315.87,255.95 316.82,256.25 317.78,256.55 318.73,256.85 319.69,257.15 320.64,257.45 321.60,257.71 322.56,257.91 323.52,257.99 324.49,257.94 325.47,257.79 326.44,257.60 327.42,257.38 328.40,257.17 329.37,256.95 330.35,256.73 331.33,256.52 332.30,256.29 333.27,256.06 334.22,255.78 335.15,255.43 336.05,255.01 336.93,254.54 337.79,254.04 338.65,253.53 339.51,253.02 340.37,252.50 341.20,251.96 342.00,251.38 342.73,250.73 343.41,250.00 344.04,249.23 344.65,248.45 345.27,247.65 345.88,246.86 346.49,246.07 347.10,245.27 347.71,244.48 348.32,243.69 348.92,242.89 349.52,242.09 350.10,241.27 350.67,240.45 351.22,239.62 351.77,238.78 352.32,237.94 352.87,237.10 353.41,236.26 353.96,235.43 354.51,234.59 355.06,233.75 355.60,232.91 356.15,232.07 356.69,231.23 357.23,230.39 357.76,229.54 358.28,228.68 358.79,227.82 359.31,226.96 359.82,226.10 360.33,225.24 360.84,224.38 361.36,223.52 361.87,222.66 362.38,221.80 362.88,220.93 363.35,220.06 363.80,219.16 364.20,218.25 364.57,217.32 364.94,216.39 365.30,215.46 365.65,214.52 366.01,213.59 366.36,212.65 366.70,211.71 367.02,210.76 367.32,209.81 367.60,208.85 367.88,207.88 368.15,206.92 368.42,205.96 368.69,204.99 368.96,204.03 369.23,203.07 369.50,202.10 369.77,201.14 370.04,200.17 370.32,199.21 370.59,198.25 370.86,197.28 371.14,196.32 371.42,195.36 371.72,194.41 372.02,193.45 372.33,192.50 372.65,191.55 372.97,190.60 373.28,189.65 373.60,188.70 373.92,187.75 374.23,186.80 374.55,185.85 374.88,184.91 375.23,183.98 375.63,183.07 376.09,182.19 376.59,181.33 377.12,180.48 377.66,179.64 378.20,178.79 378.75,177.95 379.29,177.11 379.84,176.28 380.40,175.45 380.97,174.62 381.54,173.80 382.11,172.98 382.68,172.16 383.24,171.33 383.78,170.48 384.27,169.62 384.71,168.73 385.12,167.82 385.52,166.90 385.92,165.98 386.31,165.06 386.71,164.14 387.10,163.22 387.49,162.30 387.89,161.38 388.29,160.46 388.70,159.55 389.15,158.66 389.64,157.79 390.17,156.95 390.73,156.12 391.30,155.30 391.87,154.48 392.44,153.66 393.02,152.84 393.59,152.02 394.16,151.19 394.73,150.37 395.30,149.54 395.86,148.71 396.42,147.88 396.97,147.05 397.53,146.22 398.09,145.39 398.65,144.56 399.20,143.73 399.76,142.89 400.32,142.06 400.89,141.24 401.47,140.43 402.07,139.63 402.70,138.85 403.34,138.08 403.98,137.32 404.63,136.55 405.28,135.79 405.93,135.03 406.58,134.26 407.22,133.50 407.87,132.74 408.52,131.97 409.16,131.21 409.80,130.44 410.44,129.67 411.08,128.90 411.72,128.13 412.37,127.36 413.01,126.59 413.65,125.82 414.29,125.05 414.91,124.27 415.52,123.48 416.10,122.67 416.63,121.83 417.14,120.97 417.64,120.10 418.13,119.23 418.63,118.36 419.12,117.48 419.61,116.61 420.10,115.74 420.60,114.87 421.09,114.00 421.60,113.14 422.13,112.29 422.70,111.48 423.33,110.71 424.00,109.97 424.68,109.25 425.38,108.53 426.07,107.81 426.77,107.09 427.47,106.37 428.16,105.65 428.87,104.94 429.58,104.23 430.31,103.55 431.06,102.89 431.82,102.24 432.60,101.64 433.42,101.11 434.30,100.69 435.22,100.39 436.19,100.16 437.17,99.97 438.15,99.79 439.13,99.60 440.12,99.42 441.10,99.25 442.08,99.10 443.06,99.02 444.04,99.05 445.00,99.20 445.97,99.43 446.93,99.70 447.88,99.98 448.84,100.29 449.77,100.63 450.69,101.01 451.60,101.44 452.49,101.88 453.38,102.34 454.27,102.79 455.17,103.25 456.06,103.71 456.95,104.17 457.84,104.62 458.73,105.08 459.62,105.54 460.51,105.99 461.40,106.45 462.29,106.91 463.18,107.37 464.07,107.83 464.96,108.29 465.85,108.75 466.73,109.22 467.62,109.69 468.50,110.16 469.39,110.62 470.27,111.09 471.15,111.56 472.04,112.03 472.92,112.50 473.81,112.97 474.69,113.44 475.58,113.91 476.46,114.37 477.34,114.84 478.19,115.29 479.05,115.75 480.00,116.25 480.00,116.25 480.00,137.50 479.48,137.29 478.55,136.92 477.65,136.56 476.74,136.20 475.81,135.83 474.88,135.45 473.95,135.08 473.02,134.71 472.09,134.34 471.16,133.97 470.23,133.60 469.30,133.23 468.37,132.87 467.43,132.53 466.48,132.21 465.52,131.91 464.56,131.62 463.60,131.33 462.65,131.04 461.69,130.76 460.73,130.47 459.77,130.18 458.81,129.89 457.85,129.60 456.89,129.32 455.93,129.03 454.97,128.73 454.02,128.44 453.06,128.14 452.10,127.84 451.15,127.54 450.19,127.24 449.24,126.94 448.28,126.64 447.33,126.35 446.37,126.11 445.41,125.95 444.45,125.93 443.48,126.05 442.51,126.24 441.54,126.47 440.57,126.72 439.60,126.96 438.62,127.21 437.65,127.45 436.68,127.70 435.71,127.94 434.75,128.20 433.80,128.49 432.89,128.86 432.03,129.32 431.22,129.88 430.43,130.49 429.66,131.12 428.89,131.76 428.12,132.40 427.35,133.05 426.59,133.70 425.85,134.37 425.16,135.08 424.52,135.84 423.93,136.64 423.36,137.46 422.81,138.29 422.25,139.12 421.69,139.96 421.14,140.79 420.58,141.62 420.03,142.46 419.47,143.29 418.92,144.13 418.36,144.96 417.81,145.79 417.25,146.63 416.69,147.46 416.14,148.29 415.58,149.13 415.03,149.96 414.47,150.79 413.92,151.63 413.36,152.46 412.80,153.29 412.25,154.13 411.69,154.96 411.14,155.80 410.59,156.63 410.06,157.48 409.54,158.34 409.03,159.20 408.53,160.07 408.03,160.93 407.53,161.80 407.03,162.67 406.53,163.54 406.04,164.41 405.54,165.28 405.04,166.15 404.54,167.02 404.04,167.88 403.54,168.75 403.03,169.61 402.52,170.47 402.00,171.33 401.48,172.19 400.96,173.04 400.43,173.90 399.91,174.75 399.39,175.61 398.87,176.46 398.34,177.31 397.82,178.17 397.28,179.01 396.74,179.85 396.18,180.68 395.60,181.50 395.01,182.31 394.42,183.12 393.83,183.93 393.24,184.74 392.65,185.55 392.06,186.36 391.47,187.16 390.88,187.97 390.28,188.78 389.69,189.59 389.10,190.40 388.51,191.21 387.92,192.02 387.33,192.83 386.74,193.63 386.15,194.45 385.58,195.26 385.03,196.10 384.53,196.95 384.08,197.84 383.68,198.76 383.29,199.68 382.91,200.61 382.53,201.53 382.16,202.46 381.78,203.39 381.40,204.32 381.03,205.25 380.65,206.17 380.27,207.10 379.89,208.03 379.51,208.96 379.13,209.88 378.75,210.81 378.36,211.73 377.98,212.66 377.61,213.59 377.27,214.53 376.98,215.48 376.74,216.45 376.52,217.42 376.32,218.40 376.12,219.39 375.93,220.37 375.73,221.35 375.53,222.33 375.34,223.32 375.14,224.30 374.94,225.28 374.75,226.26 374.55,227.24 374.35,228.23 374.15,229.21 373.93,230.18 373.68,231.15 373.40,232.11 373.08,233.06 372.75,234.00 372.41,234.94 372.07,235.88 371.72,236.82 371.38,237.77 371.04,238.71 370.70,239.65 370.35,240.59 370.01,241.53 369.67,242.47 369.32,243.41 368.95,244.34 368.56,245.26 368.14,246.17 367.71,247.07 367.26,247.97 366.82,248.87 366.37,249.76 365.92,250.66 365.47,251.55 365.02,252.45 364.58,253.35 364.13,254.24 363.68,255.14 363.23,256.03 362.79,256.93 362.34,257.83 361.89,258.72 361.46,259.63 361.03,260.53 360.61,261.44 360.20,262.36 359.80,263.27 359.39,264.19 358.98,265.10 358.58,266.02 358.17,266.93 357.76,267.85 357.35,268.76 356.94,269.67 356.50,270.57 356.04,271.46 355.55,272.33 355.03,273.19 354.51,274.04 353.98,274.89 353.45,275.74 352.91,276.59 352.38,277.44 351.85,278.29 351.32,279.13 350.78,279.97 350.21,280.80 349.62,281.60 349.00,282.39 348.36,283.16 347.71,283.92 347.06,284.68 346.41,285.44 345.76,286.20 345.10,286.96 344.45,287.72 343.79,288.47 343.10,289.18 342.37,289.85 341.58,290.44 340.74,290.98 339.88,291.49 339.02,291.99 338.15,292.49 337.28,292.98 336.41,293.48 335.53,293.96 334.65,294.42 333.74,294.81 332.80,295.14 331.84,295.40 330.87,295.64 329.89,295.86 328.92,296.07 327.94,296.29 326.96,296.51 325.98,296.72 325.00,296.93 324.03,297.11 323.05,297.21 322.08,297.21 321.10,297.09 320.13,296.89 319.16,296.66 318.19,296.42 317.21,296.18 316.24,295.94 315.27,295.69 314.30,295.44 313.34,295.17 312.38,294.88 311.44,294.55 310.50,294.19 309.57,293.83 308.64,293.46 307.71,293.08 306.78,292.71 305.85,292.34 304.92,291.97 303.99,291.60 303.06,291.22 302.14,290.84 301.24,290.43 300.37,289.95 299.57,289.39 298.81,288.76 298.09,288.07 297.37,287.37 296.67,286.66 295.96,285.96 295.25,285.25 294.54,284.54 293.82,283.84 293.09,283.16 292.33,282.52 291.54,281.91 290.73,281.33 289.90,280.77 289.07,280.21 288.23,279.66 287.40,279.10 286.56,278.55 285.72,278.02 284.86,277.50 283.98,277.02 283.10,276.56 282.20,276.10 281.31,275.65 280.41,275.21 279.52,274.75 278.63,274.29 277.76,273.80 276.90,273.29 276.06,272.75 275.23,272.19 274.40,271.63 273.57,271.06 272.75,270.50 271.92,269.93 271.10,269.36 270.27,268.80 269.44,268.24 268.60,267.69 267.75,267.17 266.87,266.70 265.97,266.26 265.06,265.85 264.14,265.45 263.23,265.05 262.31,264.66 261.39,264.26 260.47,263.86 259.55,263.46 258.63,263.07 257.71,262.67 256.79,262.27 255.87,261.88 254.94,261.49 254.02,261.11 253.09,260.74 252.16,260.36 251.23,259.99 250.30,259.62 249.37,259.25 248.44,258.88 247.51,258.50 246.58,258.13 245.65,257.77 244.71,257.40 243.78,257.04 242.84,256.69 241.90,256.34 240.96,255.99 240.03,255.63 239.09,255.28 238.15,254.93 237.21,254.58 236.28,254.21 235.36,253.83 234.44,253.43 233.53,253.00 232.63,252.56 231.74,252.12 230.84,251.67 229.95,251.22 229.05,250.78 228.15,250.33 227.26,249.88 226.36,249.43 225.47,248.97 224.59,248.51 223.70,248.03 222.82,247.56 221.94,247.07 221.07,246.59 220.19,246.11 219.31,245.63 218.43,245.15 217.55,244.67 216.67,244.19 215.79,243.71 214.92,243.23 214.03,242.75 213.14,242.29 212.24,241.86 211.33,241.45 210.41,241.07 209.48,240.69 208.55,240.32 207.62,239.95 206.69,239.58 205.76,239.20 204.83,238.83 203.90,238.46 202.97,238.09 202.03,237.73 201.09,237.40 200.14,237.13 199.17,236.95 198.18,236.83 197.19,236.76 196.19,236.70 195.19,236.65 194.19,236.60 193.19,236.55 192.19,236.49 191.19,236.44 190.19,236.38 189.19,236.31 188.20,236.21 187.22,236.05 186.25,235.83 185.29,235.56 184.33,235.28 183.37,234.98 182.41,234.69 181.45,234.40 180.50,234.10 179.54,233.81 178.58,233.51 177.62,233.22 176.67,232.93 175.71,232.63 174.75,232.34 173.79,232.05 172.84,231.75 171.88,231.46 170.92,231.16 169.98,230.83 169.05,230.47 168.16,230.04 167.28,229.57 166.42,229.06 165.57,228.53 164.71,228.01 163.86,227.48 163.01,226.96 162.16,226.43 161.30,225.91 160.44,225.41 159.56,224.92 158.67,224.46 157.78,224.01 156.88,223.56 155.99,223.12 155.09,222.68 154.19,222.23 153.30,221.77 152.41,221.30 151.54,220.82 150.67,220.32 149.80,219.82 148.94,219.31 148.08,218.80 147.21,218.30 146.35,217.79 145.50,217.27 144.65,216.74 143.80,216.19 142.97,215.64 142.13,215.09 141.30,214.53 140.47,213.98 139.63,213.42 138.79,212.88 137.94,212.35 137.08,211.85 136.19,211.38 135.30,210.93 134.40,210.49 133.50,210.05 132.60,209.61 131.70,209.17 130.80,208.73 129.90,208.29 129.00,207.85 128.10,207.41 127.20,206.97 126.30,206.53 125.40,206.09 124.50,205.65 123.60,205.21 122.70,204.77 121.80,204.33 120.90,203.90 120.00,203.46 119.10,203.02 118.20,202.58 117.30,202.14 116.40,201.70 115.50,201.26 114.61,200.82 113.74,200.40 112.87,199.97 111.90,199.50" fill="#008000" fill-opacity="0.2" stroke="none"/><polyline points="111.90,199.50 112.90,199.74 113.85,199.96 114.83,200.19 115.80,200.42 116.78,200.65 117.75,200.88 118.73,201.11 119.70,201.34 120.67,201.57 121.65,201.81 122.59,202.11 123.51,202.51 124.41,202.95 125.30,203.40 126.20,203.85 127.10,204.30 127.99,204.75 128.89,205.19 129.78,205.64 130.68,206.09 131.58,206.54 132.47,206.99 133.37,207.43 134.26,207.88 135.16,208.33 136.06,208.78 136.95,209.23 137.85,209.67 138.74,210.12 139.64,210.57 140.54,211.02 141.43,211.47 142.33,211.91 143.22,212.36 144.12,212.81 145.02,213.26 145.91,213.71 146.81,214.15 147.70,214.60 148.60,215.05 149.50,215.50 150.39,215.95 151.29,216.39 152.19,216.82 153.12,217.19 154.07,217.52 155.02,217.84 155.97,218.16 156.92,218.47 157.87,218.79 158.82,219.11 159.76,219.45 160.68,219.84 161.58,220.26 162.49,220.69 163.39,221.13 164.29,221.56 165.20,221.99 166.10,222.43 167.01,222.82 167.96,223.10 168.95,223.23 169.94,223.33 170.94,223.43 171.94,223.52 172.94,223.62 173.93,223.71 174.93,223.81 175.93,223.90 176.93,224.00 177.92,224.09 178.92,224.18 179.92,224.28 180.91,224.37 181.91,224.47 182.91,224.56 183.91,224.66 184.90,224.75 185.90,224.85 186.90,224.95 187.89,225.06 188.89,225.19 189.88,225.33 190.87,225.47 191.86,225.61 192.85,225.75 193.85,225.89 194.84,226.03 195.83,226.17 196.82,226.31 197.81,226.44 198.81,226.59 199.79,226.75 200.77,226.98 201.73,227.24 202.70,227.52 203.66,227.79 204.62,228.06 205.59,228.34 206.55,228.61 207.51,228.88 208.48,229.16 209.44,229.43 210.40,229.71 211.37,229.98 212.31,230.31 213.20,230.74 214.07,231.24 214.93,231.75 215.79,232.26 216.65,232.77 217.52,233.28 218.38,233.80 219.24,234.31 220.10,234.82 220.96,235.33 221.82,235.84 222.70,236.33 223.58,236.79 224.48,237.24 225.37,237.69 226.27,238.14 227.16,238.59 228.06,239.04 228.95,239.49 229.85,239.94 230.74,240.39 231.64,240.84 232.54,241.29 233.44,241.71 234.38,242.05 235.34,242.34 236.30,242.60 237.27,242.87 238.23,243.14 239.20,243.40 240.17,243.67 241.13,243.93 242.10,244.20 243.06,244.47 244.03,244.73 245.00,244.99 245.97,245.24 246.94,245.48 247.91,245.73 248.88,245.97 249.85,246.21 250.83,246.46 251.80,246.70 252.77,246.94 253.74,247.19 254.71,247.44 255.68,247.71 256.64,247.99 257.60,248.28 258.55,248.57 259.51,248.85 260.47,249.14 261.43,249.43 262.39,249.72 263.35,250.01 264.31,250.29 265.27,250.58 266.23,250.87 267.16,251.22 268.03,251.69 268.84,252.26 269.65,252.86 270.45,253.46 271.25,254.06 272.05,254.66 272.85,255.26 273.65,255.86 274.45,256.47 275.26,257.07 276.06,257.67 276.86,258.27 277.67,258.85 278.50,259.42 279.33,259.97 280.17,260.53 281.00,261.08 281.83,261.64 282.67,262.20 283.50,262.75 284.34,263.30 285.18,263.84 286.04,264.35 286.91,264.86 287.77,265.36 288.64,265.86 289.51,266.36 290.37,266.87 291.24,267.37 292.11,267.87 292.97,268.38 293.84,268.88 294.70,269.39 295.56,269.90 296.43,270.40 297.29,270.91 298.16,271.42 299.02,271.92 299.90,272.40 300.81,272.82 301.73,273.21 302.65,273.60 303.58,273.98 304.51,274.36 305.43,274.75 306.36,275.13 307.28,275.51 308.21,275.90 309.13,276.29 310.05,276.68 310.98,277.04 311.94,277.32 312.92,277.53 313.90,277.72 314.88,277.91 315.87,278.10 316.85,278.30 317.83,278.49 318.82,278.68 319.80,278.87 320.78,279.06 321.76,279.22 322.73,279.21 323.69,278.99 324.64,278.68 325.59,278.36 326.54,278.04 327.49,277.72 328.44,277.40 329.38,277.07 330.33,276.75 331.28,276.43 332.23,276.11 333.17,275.76 334.05,275.32 334.89,274.78 335.70,274.20 336.51,273.61 337.33,273.02 338.14,272.44 338.95,271.85 339.77,271.27 340.58,270.68 341.39,270.10 342.20,269.51 343.02,268.93 343.83,268.34 344.60,267.72 345.27,267.00 345.84,266.18 346.38,265.34 346.93,264.50 347.47,263.65 348.01,262.81 348.55,261.97 349.09,261.12 349.63,260.28 350.17,259.44 350.71,258.59 351.25,257.75 351.79,256.91 352.33,256.06 352.87,255.22 353.41,254.38 353.95,253.53 354.49,252.69 355.03,251.85 355.58,251.00 356.12,250.16 356.66,249.32 357.19,248.47 357.70,247.60 358.18,246.73 358.65,245.84 359.12,244.96 359.59,244.07 360.06,243.19 360.53,242.30 361.00,241.42 361.47,240.53 361.94,239.65 362.41,238.77 362.88,237.88 363.35,237.00 363.80,236.10 364.24,235.20 364.66,234.29 365.09,233.39 365.51,232.48 365.94,231.57 366.36,230.66 366.79,229.76 367.21,228.85 367.64,227.94 368.06,227.04 368.48,226.13 368.90,225.22 369.27,224.29 369.60,223.34 369.90,222.39 370.20,221.43 370.51,220.48 370.81,219.52 371.11,218.57 371.42,217.61 371.72,216.66 372.02,215.70 372.33,214.75 372.65,213.80 372.98,212.86 373.32,211.91 373.66,210.97 374.00,210.03 374.33,209.08 374.67,208.14 375.01,207.20 375.35,206.26 375.69,205.31 376.04,204.38 376.39,203.44 376.75,202.50 377.11,201.57 377.46,200.63 377.82,199.69 378.17,198.76 378.53,197.82 378.88,196.88 379.24,195.95 379.61,195.02 379.99,194.09 380.39,193.17 380.79,192.25 381.18,191.33 381.58,190.41 381.98,189.49 382.38,188.57 382.77,187.65 383.17,186.73 383.57,185.81 383.97,184.89 384.36,183.97 384.76,183.05 385.16,182.13 385.55,181.21 385.95,180.29 386.34,179.37 386.74,178.45 387.13,177.53 387.52,176.61 387.92,175.69 388.32,174.77 388.79,173.90 389.40,173.13 390.09,172.41 390.80,171.70 391.51,170.99 392.19,170.26 392.82,169.49 393.39,168.67 393.95,167.84 394.51,167.00 395.06,166.17 395.62,165.34 396.18,164.51 396.74,163.67 397.29,162.84 397.85,162.01 398.41,161.18 398.97,160.34 399.52,159.51 400.06,158.67 400.59,157.81 401.10,156.96 401.62,156.10 402.13,155.24 402.64,154.38 403.16,153.52 403.67,152.66 404.19,151.80 404.70,150.94 405.21,150.08 405.73,149.22 406.24,148.36 406.76,147.50 407.28,146.64 407.82,145.80 408.39,144.98 408.97,144.16 409.55,143.34 410.12,142.52 410.70,141.70 411.28,140.88 411.86,140.07 412.43,139.25 413.01,138.43 413.59,137.61 414.16,136.79 414.74,135.97 415.32,135.15 415.90,134.33 416.47,133.52 417.05,132.70 417.63,131.88 418.21,131.06 418.79,130.25 419.37,129.43 419.95,128.61 420.52,127.79 421.10,126.97 421.68,126.16 422.28,125.36 422.93,124.60 423.62,123.88 424.33,123.17 425.04,122.46 425.75,121.75 426.44,121.03 427.12,120.29 427.80,119.55 428.47,118.81 429.15,118.07 429.82,117.33 430.50,116.59 431.17,115.85 431.86,115.14 432.62,114.54 433.52,114.18 434.49,113.94 435.46,113.71 436.44,113.49 437.41,113.26 438.39,113.03 439.37,112.81 440.34,112.58 441.32,112.35 442.29,112.13 443.27,111.90 444.24,111.72 445.21,111.70 446.16,111.92 447.10,112.24 448.05,112.57 449.00,112.90 449.94,113.23 450.89,113.56 451.83,113.89 452.78,114.22 453.72,114.55 454.66,114.90 455.60,115.26 456.52,115.65 457.44,116.05 458.36,116.44 459.28,116.83 460.20,117.23 461.12,117.62 462.04,118.02 462.96,118.42 463.88,118.83 464.78,119.26 465.68,119.71 466.57,120.15 467.47,120.60 468.37,121.05 469.26,121.49 470.16,121.94 471.06,122.38 471.96,122.83 472.85,123.28 473.74,123.73 474.64,124.18 475.53,124.64 476.43,125.09 477.32,125.54 478.21,125.99 479.09,126.44 480.00,126.90 480.00,126.90" fill="none" stroke="#008000" stroke-width="1.6" stroke-linejoin="round"/><line x1="55" y1="194.95" x2="480" y2="194.95" stroke="#000" stroke-width="2"/></g><rect x="61" y="64" width="314" height="54.4" rx="2.5" ry="2.5" fill="#fff" fill-opacity="0.8" stroke="#cccccc" stroke-width="1"/><line x1="64" y1="72.9" x2="89.2" y2="72.9" stroke="#000" stroke-width="2"/><line x1="64.6" y1="90.8" x2="89" y2="90.8" stroke="#0000ff" stroke-width="1.6"/><line x1="64.6" y1="107.5" x2="89" y2="107.5" stroke="#008000" stroke-width="1.6"/><g font-family="Liberation Sans, sans-serif" fill="#000" opacity="0.999" style="font-kerning:none;text-rendering:geometricPrecision"><g font-size="11.91"><text transform="translate(97.23 77.00) scale(1.0400 1)">2</text><text transform="translate(104.48 77.00) scale(1.0400 1)">0</text><text transform="translate(111.73 77.00) scale(1.0400 1)">1</text><text transform="translate(118.98 77.00) scale(1.0400 1)">8</text><text transform="translate(126.24 77.00) scale(1.0400 1)">0</text><text transform="translate(133.49 77.00) scale(1.0400 1)">1</text><text transform="translate(140.74 77.00) scale(1.0400 1)">2</text><text transform="translate(148.00 77.00) scale(1.0400 1)">9</text><text transform="translate(155.16 77.00) scale(1.0400 1)">.</text><text transform="translate(158.69 77.00) scale(1.0203 1)">D</text><text transform="translate(167.42 77.00) scale(0.9200 1)">E</text><text transform="translate(174.67 77.00) scale(0.9252 1)">C</text><text transform="translate(182.63 77.00) scale(0.9408 1)">K</text><text transform="translate(190.38 77.00) scale(1.0400 1)">v</text><text transform="translate(197.04 77.00) scale(1.0400 1)">1</text><text transform="translate(204.28 77.00) scale(1.0400 1)">b</text><text transform="translate(211.15 77.00) scale(0.9200 1)">_</text><text transform="translate(217.22 77.00) scale(1.0400 1)">p</text><text transform="translate(224.49 77.00) scale(1.0400 1)">i</text><text transform="translate(227.45 77.00) scale(0.9252 1)">C</text><text transform="translate(235.45 77.00) scale(1.0400 1)">o</text><text transform="translate(242.55 77.00) scale(1.0400 1)">n</text><text transform="translate(250.12 77.00) scale(1.0400 1)">t</text><text transform="translate(254.36 77.00) scale(1.0400 1)">r</text><text transform="translate(258.81 77.00) scale(1.0400 1)">o</text><text transform="translate(265.95 77.00) scale(1.0400 1)">l</text><text transform="translate(269.00 77.00) scale(1.0400 1)">.</text><text transform="translate(272.70 77.00) scale(1.0400 1)">n</text><text transform="translate(279.82 77.00) scale(1.0400 1)">e</text><text transform="translate(286.95 77.00) scale(1.0400 1)">3</text><text transform="translate(294.20 77.00) scale(1.0400 1)">0</text><text transform="translate(301.08 77.00) scale(0.9200 1)">_</text><text transform="translate(307.02 77.00) scale(1.0400 1)">o</text><text transform="translate(313.90 77.00) scale(0.9200 1)">E</text><text transform="translate(321.15 77.00) scale(0.9252 1)">C</text><text transform="translate(329.20 77.00) scale(1.0400 1)">.</text><text transform="translate(332.80 77.00) scale(1.0400 1)">e</text><text transform="translate(339.92 77.00) scale(1.0400 1)">d</text><text transform="translate(347.19 77.00) scale(1.0400 1)">i</text><text transform="translate(350.15 77.00) scale(0.9971 1)">s</text><text transform="translate(356.14 77.00) scale(1.0400 1)">o</text><text transform="translate(363.24 77.00) scale(1.0400 1)">n</text></g><g font-size="11.91"><text transform="translate(97.24 94.40) scale(0.9569 1)">T</text><text transform="translate(104.49 94.40) scale(1.0400 1)">r</text><text transform="translate(108.96 94.40) scale(1.0400 1)">e</text><text transform="translate(116.08 94.40) scale(1.0400 1)">n</text><text transform="translate(123.31 94.40) scale(1.0400 1)">b</text><text transform="translate(130.43 94.40) scale(1.0400 1)">e</text><text transform="translate(137.66 94.40) scale(1.0400 1)">r</text><text transform="translate(142.58 94.40) scale(1.0400 1)">t</text><text transform="translate(146.71 94.40) scale(1.0400 1)">h</text><text transform="translate(157.44 94.40) scale(1.0400 1)">a</text><text transform="translate(164.54 94.40) scale(1.0400 1)">n</text><text transform="translate(171.77 94.40) scale(1.0400 1)">d</text><text transform="translate(182.46 94.40) scale(0.9252 1)">C</text><text transform="translate(190.47 94.40) scale(1.0400 1)">a</text><text transform="translate(197.69 94.40) scale(1.0400 1)">r</text><text transform="translate(202.13 94.40) scale(1.0400 1)">o</text><text transform="translate(209.23 94.40) scale(1.0400 1)">n</text><text transform="translate(219.92 94.40) scale(1.0369 1)">-</text><text transform="translate(227.65 94.40) scale(0.9912 1)">N</text><text transform="translate(236.18 94.40) scale(0.9252 1)">C</text><text transform="translate(244.09 94.40) scale(0.9200 1)">E</text><text transform="translate(251.13 94.40) scale(0.9200 1)">P</text></g><g font-size="11.91"><text transform="translate(97.24 111.70) scale(0.9569 1)">T</text><text transform="translate(104.49 111.70) scale(1.0400 1)">r</text><text transform="translate(108.96 111.70) scale(1.0400 1)">e</text><text transform="translate(116.08 111.70) scale(1.0400 1)">n</text><text transform="translate(123.31 111.70) scale(1.0400 1)">b</text><text transform="translate(130.43 111.70) scale(1.0400 1)">e</text><text transform="translate(137.66 111.70) scale(1.0400 1)">r</text><text transform="translate(142.58 111.70) scale(1.0400 1)">t</text><text transform="translate(146.71 111.70) scale(1.0400 1)">h</text><text transform="translate(157.44 111.70) scale(1.0400 1)">a</text><text transform="translate(164.54 111.70) scale(1.0400 1)">n</text><text transform="translate(171.77 111.70) scale(1.0400 1)">d</text><text transform="translate(182.46 111.70) scale(0.9252 1)">C</text><text transform="translate(190.47 111.70) scale(1.0400 1)">a</text><text transform="translate(197.69 111.70) scale(1.0400 1)">r</text><text transform="translate(202.13 111.70) scale(1.0400 1)">o</text><text transform="translate(209.23 111.70) scale(1.0400 1)">n</text><text transform="translate(219.92 111.70) scale(1.0369 1)">-</text><text transform="translate(227.60 111.70) scale(0.9200 1)">E</text><text transform="translate(234.86 111.70) scale(0.9252 1)">C</text><text transform="translate(242.82 111.70) scale(0.9912 1)">M</text><text transform="translate(252.65 111.70) scale(1.0025 1)">W</text><text transform="translate(263.86 111.70) scale(0.9200 1)">F</text></g><g font-size="23.77"><text transform="translate(165.86 25.70) scale(0.9533 1)">G</text><text transform="translate(183.90 25.70) scale(1.0400 1)">l</text><text transform="translate(189.89 25.70) scale(1.0400 1)">o</text><text transform="translate(204.07 25.70) scale(1.0400 1)">b</text><text transform="translate(218.26 25.70) scale(1.0400 1)">a</text><text transform="translate(232.52 25.70) scale(1.0400 1)">l</text><text transform="translate(245.66 25.70) scale(0.9912 1)">M</text><text transform="translate(265.29 25.70) scale(0.9964 1)">H</text><text transform="translate(282.40 25.70) scale(0.9569 1)">T</text><text transform="translate(303.85 25.70) scale(1.0400 1)">(</text><text transform="translate(312.40 25.70) scale(0.9815 1)">A</text><text transform="translate(327.97 25.70) scale(0.9912 1)">N</text><text transform="translate(344.98 25.70) scale(0.9912 1)">N</text><text transform="translate(362.18 25.70) scale(1.0400 1)">,</text><text transform="translate(377.01 25.70) scale(1.0400 1)">y</text><text transform="translate(390.05 25.70) scale(1.0400 1)">e</text><text transform="translate(404.02 25.70) scale(1.0400 1)">a</text><text transform="translate(418.43 25.70) scale(1.0400 1)">r</text><text transform="translate(427.22 25.70) scale(0.9971 1)">s</text><text transform="translate(446.66 25.70) scale(1.0400 1)">0</text><text transform="translate(461.14 25.70) scale(1.0400 1)">1</text><text transform="translate(475.61 25.70) scale(1.0400 1)">5</text><text transform="translate(490.09 25.70) scale(1.0400 1)">1</text><text transform="translate(504.20 25.70) scale(1.0369 1)">-</text><text transform="translate(512.77 25.70) scale(1.0400 1)">0</text><text transform="translate(527.24 25.70) scale(1.0400 1)">2</text><text transform="translate(541.72 25.70) scale(1.0400 1)">0</text><text transform="translate(556.19 25.70) scale(1.0400 1)">0</text><text transform="translate(570.63 25.70) scale(1.0400 1)">)</text></g><g font-size="23.77"><text transform="translate(103.25 50.50) scale(1.0400 1)">2</text><text transform="translate(117.73 50.50) scale(1.0400 1)">0</text><text transform="translate(132.20 50.50) scale(1.0400 1)">1</text><text transform="translate(146.68 50.50) scale(1.0400 1)">8</text><text transform="translate(161.15 50.50) scale(1.0400 1)">0</text><text transform="translate(175.62 50.50) scale(1.0400 1)">1</text><text transform="translate(190.10 50.50) scale(1.0400 1)">2</text><text transform="translate(204.57 50.50) scale(1.0400 1)">9</text><text transform="translate(218.87 50.50) scale(1.0400 1)">.</text><text transform="translate(225.92 50.50) scale(1.0203 1)">D</text><text transform="translate(243.33 50.50) scale(0.9200 1)">E</text><text transform="translate(257.81 50.50) scale(0.9252 1)">C</text><text transform="translate(273.69 50.50) scale(0.9408 1)">K</text><text transform="translate(289.16 50.50) scale(1.0400 1)">v</text><text transform="translate(302.44 50.50) scale(1.0400 1)">1</text><text transform="translate(316.90 50.50) scale(1.0400 1)">b</text><text transform="translate(330.60 50.50) scale(0.9200 1)">_</text><text transform="translate(342.71 50.50) scale(1.0400 1)">p</text><text transform="translate(357.22 50.50) scale(1.0400 1)">i</text><text transform="translate(363.13 50.50) scale(0.9252 1)">C</text><text transform="translate(379.10 50.50) scale(1.0400 1)">o</text><text transform="translate(393.27 50.50) scale(1.0400 1)">n</text><text transform="translate(408.38 50.50) scale(1.0400 1)">t</text><text transform="translate(416.83 50.50) scale(1.0400 1)">r</text><text transform="translate(425.71 50.50) scale(1.0400 1)">o</text><text transform="translate(439.96 50.50) scale(1.0400 1)">l</text><text transform="translate(446.04 50.50) scale(1.0400 1)">.</text><text transform="translate(453.43 50.50) scale(1.0400 1)">n</text><text transform="translate(467.64 50.50) scale(1.0400 1)">e</text><text transform="translate(481.87 50.50) scale(1.0400 1)">3</text><text transform="translate(496.35 50.50) scale(1.0400 1)">0</text><text transform="translate(510.06 50.50) scale(0.9200 1)">_</text><text transform="translate(521.92 50.50) scale(1.0400 1)">o</text><text transform="translate(535.65 50.50) scale(0.9200 1)">E</text><text transform="translate(550.13 50.50) scale(0.9252 1)">C</text><text transform="translate(566.19 50.50) scale(1.0400 1)">.</text><text transform="translate(573.37 50.50) scale(1.0400 1)">e</text><text transform="translate(587.58 50.50) scale(1.0400 1)">d</text><text transform="translate(602.09 50.50) scale(1.0400 1)">i</text><text transform="translate(608.00 50.50) scale(0.9971 1)">s</text><text transform="translate(619.94 50.50) scale(1.0400 1)">o</text><text transform="translate(634.11 50.50) scale(1.0400 1)">n</text></g><g font-size="11.91"><text transform="translate(39.68 92.91) scale(1.0400 1)">2</text></g><g font-size="11.91"><text transform="translate(39.47 146.28) scale(1.0400 1)">1</text></g><g font-size="11.91"><text transform="translate(40.24 199.65) scale(1.0400 1)">0</text></g><g font-size="11.91"><text transform="translate(29.73 253.42) scale(1.3730 1)">−</text><text transform="translate(39.47 253.42) scale(1.0400 1)">1</text></g><g font-size="11.91"><text transform="translate(29.95 306.39) scale(1.3730 1)">−</text><text transform="translate(39.68 306.39) scale(1.0400 1)">2</text></g><g font-size="11.91"><text transform="translate(42.97 327.50) scale(1.3730 1)">−</text><text transform="translate(52.70 327.50) scale(1.0400 1)">8</text><text transform="translate(59.96 327.50) scale(1.0400 1)">0</text></g><g font-size="11.91"><text transform="translate(122.47 327.50) scale(1.3730 1)">−</text><text transform="translate(132.20 327.50) scale(1.0400 1)">6</text><text transform="translate(139.46 327.50) scale(1.0400 1)">0</text></g><g font-size="11.91"><text transform="translate(201.97 327.50) scale(1.3730 1)">−</text><text transform="translate(211.70 327.50) scale(1.0400 1)">4</text><text transform="translate(218.96 327.50) scale(1.0400 1)">0</text></g><g font-size="11.91"><text transform="translate(281.47 327.50) scale(1.3730 1)">−</text><text transform="translate(291.20 327.50) scale(1.0400 1)">2</text><text transform="translate(298.46 327.50) scale(1.0400 1)">0</text></g><g font-size="11.91"><text transform="translate(369.55 327.50) scale(1.0400 1)">0</text></g><g font-size="11.91"><text transform="translate(445.43 327.50) scale(1.0400 1)">2</text><text transform="translate(452.68 327.50) scale(1.0400 1)">0</text></g><g font-size="19.12"><text transform="translate(310.70 347.80) scale(1.0400 1)">l</text><text transform="translate(315.57 347.80) scale(1.0400 1)">a</text><text transform="translate(327.58 347.80) scale(1.0400 1)">t</text><text transform="translate(334.30 347.80) scale(1.0400 1)">i</text><text transform="translate(339.91 347.80) scale(1.0400 1)">t</text><text transform="translate(346.58 347.80) scale(1.0400 1)">u</text><text transform="translate(358.26 347.80) scale(1.0400 1)">d</text><text transform="translate(369.76 347.80) scale(1.0400 1)">e</text><text transform="translate(387.63 347.80) scale(1.0400 1)">[</text><text transform="translate(394.29 347.80) scale(1.0400 1)">d</text><text transform="translate(405.79 347.80) scale(1.0400 1)">e</text><text transform="translate(417.29 347.80) scale(1.0400 1)">g</text><text transform="translate(429.49 347.80) scale(1.0400 1)">]</text></g><g transform="translate(22.2,323.75) rotate(-90)"><g font-size="19.12"><text transform="translate(-0.85 0.00) scale(1.0400 1)">m</text><text transform="translate(16.34 0.00) scale(1.0400 1)">e</text><text transform="translate(27.89 0.00) scale(1.0400 1)">r</text><text transform="translate(35.25 0.00) scale(1.0400 1)">i</text><text transform="translate(40.21 0.00) scale(1.0400 1)">d</text><text transform="translate(51.82 0.00) scale(1.0400 1)">i</text><text transform="translate(56.58 0.00) scale(1.0400 1)">o</text><text transform="translate(67.90 0.00) scale(1.0400 1)">n</text><text transform="translate(79.22 0.00) scale(1.0400 1)">a</text><text transform="translate(90.63 0.00) scale(1.0400 1)">l</text><text transform="translate(101.37 0.00) scale(1.0400 1)">h</text><text transform="translate(112.71 0.00) scale(1.0400 1)">e</text><text transform="translate(123.87 0.00) scale(1.0400 1)">a</text><text transform="translate(135.76 0.00) scale(1.0400 1)">t</text><text transform="translate(148.66 0.00) scale(1.0400 1)">t</text><text transform="translate(155.41 0.00) scale(1.0400 1)">r</text><text transform="translate(162.49 0.00) scale(1.0400 1)">a</text><text transform="translate(173.81 0.00) scale(1.0400 1)">n</text><text transform="translate(185.10 0.00) scale(0.9899 1)">s</text><text transform="translate(194.80 0.00) scale(1.0400 1)">p</text><text transform="translate(206.12 0.00) scale(1.0400 1)">o</text><text transform="translate(217.63 0.00) scale(1.0400 1)">r</text><text transform="translate(225.48 0.00) scale(1.0400 1)">t</text><text transform="translate(238.36 0.00) scale(1.0400 1)">[</text><text transform="translate(244.27 0.00) scale(0.9200 1)">P</text><text transform="translate(255.62 0.00) scale(0.9952 1)">W</text><text transform="translate(274.36 0.00) scale(1.0400 1)">]</text></g></g></g><g stroke="#000" stroke-width="1" fill="none"><line x1="55" y1="57.5" x2="55" y2="309.8"/><line x1="54.5" y1="57.5" x2="480" y2="57.5"/><line x1="54.5" y1="309.8" x2="480" y2="309.8"/><line x1="50.8" y1="88.21" x2="55" y2="88.21"/><line x1="50.8" y1="141.58" x2="55" y2="141.58"/><line x1="50.8" y1="194.95" x2="55" y2="194.95"/><line x1="50.8" y1="248.32" x2="55" y2="248.32"/><line x1="50.8" y1="301.69" x2="55" y2="301.69"/><line x1="55.00" y1="309.8" x2="55.00" y2="314"/><line x1="134.50" y1="309.8" x2="134.50" y2="314"/><line x1="214.00" y1="309.8" x2="214.00" y2="314"/><line x1="293.50" y1="309.8" x2="293.50" y2="314"/><line x1="373.00" y1="309.8" x2="373.00" y2="314"/><line x1="452.50" y1="309.8" x2="452.50" y2="314"/></g></svg></body></html>
